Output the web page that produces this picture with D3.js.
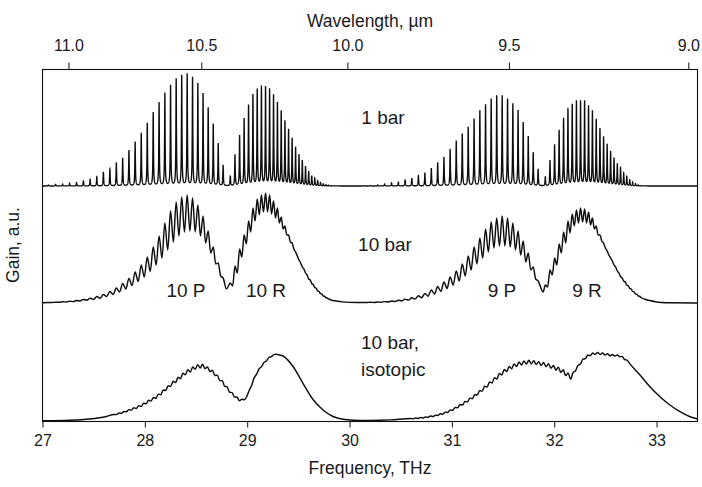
<!DOCTYPE html>
<html><head><meta charset="utf-8">
<script src="https://cdn.jsdelivr.net/npm/d3@7"></script>
<style>
body{margin:0;background:#fff}
svg{display:block}
text{font-family:"Liberation Sans",Arial,sans-serif;fill:#1a1a1a}
</style>
</head><body>
<svg id="c" width="702" height="487"></svg>
<script>
// ---------- DATA ----------
// CO2 laser line centres (THz)
const lines10P = [28.7648,28.7170,28.6684,28.6190,28.5689,28.5179,28.4662,28.4136,28.3603,28.3062,28.2513,28.1956,28.1391,28.0818,28.0237,27.9648,27.9052,27.8447,27.7835,27.7214,27.6586,27.5950,27.5306,27.4654,27.3994,27.3326,27.2650,27.1967,27.1275,27.0576];
const lines10R = [28.8350,28.8808,28.9258,28.9701,29.0135,29.0562,29.0980,29.1391,29.1794,29.2189,29.2575,29.2955,29.3326,29.3689,29.4044,29.4392,29.4731,29.5063,29.5386,29.5702,29.6010,29.6310,29.6602,29.6886,29.7162,29.7430,29.7691,29.7943,29.8187];
const lines9P = [31.8427,31.7949,31.7463,31.6969,31.6468,31.5958,31.5441,31.4915,31.4382,31.3841,31.3292,31.2735,31.2170,31.1597,31.1016,31.0427,30.9831,30.9226,30.8614,30.7993,30.7365,30.6729,30.6085,30.5433,30.4773,30.4105,30.3429,30.2746,30.2054,30.1355];
const lines9R = [31.9129,31.9587,32.0037,32.0480,32.0914,32.1341,32.1759,32.2170,32.2573,32.2968,32.3354,32.3734,32.4105,32.4468,32.4823,32.5171,32.5510,32.5842,32.6165,32.6481,32.6789,32.7089,32.7381,32.7665,32.7941,32.8209,32.8470];

// 1 bar: peak gain of each line (a.u.)
const gain1bar10P = [20.7,42.3,61.7,78,92,102,108.3,111.7,110.3,106.7,100.3,92.7,83.3,73.3,62.7,52.7,44,35.7,28,23.3,17,14,9.3,6.7,5,3.3,2.7,2,1.5,1];
const gain1bar10R = [10,31,50.3,67,80.3,90.7,96,99,98.3,96,90,82.7,74.3,64.3,56,47,38.3,31,25.3,19.3,14.3,10,7.7,5.3,3.3,2,1.3,0.7,0.3];
const gain1bar9P = [16.7,33.3,49.3,63.3,75.3,82,86.7,90,90,86.7,81,75,67,58.7,52,45,36.7,28.7,23.3,17.7,13.3,10.3,7.7,6,3.7,3,2,1,0.5,0.3];
const gain1bar9R = [8.7,25.3,41,55.3,67.3,76.7,81,84.3,84.3,84.3,79.3,74.3,66,56.7,48.7,41.3,34.3,27.7,22,17.7,12.7,9.3,6,3.7,2.3,1,0.3];

// 10 bar: gain at each line centre and in the valley between neighbouring lines
const peak10bar10P = [25,40,56,72,87,98,105,108,106,101,92,80,67,56,46,38,31,24.5,19.5,15,11.5,8.5,6.5,4.8,3.6,2.6,1.8,1.2,0.8,0.5];
const valley10bar10P = [27,39,50,60,67,71,72,71,67,61,53,45,38,31.5,26,21.5,17.5,14,11,8.5,6.5,4.8,3.6,2.8,2.0,1.4,1.0,0.7,0.5];
const peak10bar10R = [20,37,54,68,82,95,104,108,110,108,102,95,86,77,68,60,51,43,36,30,24,19.5,15.5,12,9.3,7,5.3,4,3];
const valley10bar10R = [17,30,46,59,71,82,88,91,91,89,85,80,74,68,61,54,47,40,34,28,23,18.5,14.8,11.5,9,6.8,5.1,3.8];
const peak10bar9P = [22,36,50,62,72,80,85,87,85,81,74,65,56,47,39,32,26,21,16.5,13,9.5,7.2,5.3,3.9,2.8,2.0,1.4,1.0,0.7,0.5];
const valley10bar9P = [24,33,41,48,53,56,57,57,55,51,45,39,33,27,22,18,14.5,11.5,9,6.8,5.2,3.9,2.9,2.1,1.5,1.1,0.8,0.6,0.5];
const peak10bar9R = [18,33,45,59,71,82,89,93,95,94,91,85,77,68,60,52,45,38,32,26.5,22,18,14.5,11.5,9,7,5.5];
const valley10bar9R = [16,28,38,50,60,70,77,80,81,80,78,74,68,62,55,48,42,36,30,25,21,17.3,14,11.2,8.8,6.8];
// band-centre dips and wings of the 10 bar trace [THz, gain]
const wing10bar = [[27.0,0.3],[28.797,14],[29.87,2.0],[29.93,1.1],[30.0,0.6],[30.08,0.45],[31.892,11],[32.886,3.8],[32.935,2.5],[32.99,1.2],[33.05,0.5],[33.13,0.2],[33.4,0]];

// 10 bar, isotopic mixture: frequency (THz) and gain (a.u.)
const isoFreq = [27.0,27.264,27.46,27.623,
 27.700,27.724,27.748,27.772,27.796,27.820,27.844,27.868,27.892,27.916,27.940,27.964,27.988,28.012,28.036,28.060,28.084,28.108,28.132,28.156,28.180,28.204,28.228,28.252,28.276,28.300,28.324,28.348,28.372,28.396,28.420,28.444,28.468,28.492,28.516,28.540,28.564,28.588,28.612,28.636,28.660,28.684,28.708,28.732,28.756,28.780,28.804,28.828,28.852,28.876,28.900,28.924,28.948,28.972,28.996,
 29.020,29.044,29.068,29.092,29.116,29.140,29.164,29.188,29.212,29.236,29.260,29.285,29.310,29.350,29.448,29.545,29.643,29.741,29.839,29.936,30.034,30.197,30.400,
 30.600,30.624,30.648,30.672,30.696,30.720,30.744,30.768,30.792,30.816,30.840,30.864,30.888,30.912,30.936,30.960,30.984,31.008,31.032,31.056,31.080,31.104,31.128,31.152,31.176,31.200,31.224,31.248,31.272,31.296,31.320,31.344,31.368,31.392,31.416,31.440,31.464,31.488,31.512,31.536,31.560,31.584,31.608,31.632,31.656,31.680,31.704,31.728,31.752,31.776,31.800,31.824,31.848,31.872,31.896,31.920,31.944,31.968,31.992,32.016,32.040,32.064,32.088,32.112,32.136,32.160,
 32.184,32.208,32.232,32.256,32.280,32.304,32.328,32.352,32.376,32.400,32.424,32.448,32.472,32.496,32.520,32.544,32.568,32.592,32.616,32.640,32.664,32.688,32.712,32.736,
 32.838,32.935,33.033,33.131,33.229,33.327,33.4];
const isoGain = [0.3,0.8,2.0,4.5,
 6.6,6.5,8.0,7.7,9.5,9.2,11.4,10.9,13.3,12.6,15.2,14.4,17.8,17.2,20.7,19.9,23.6,22.6,26.9,26.3,31.1,30.4,35.4,34.5,39.7,38.4,43.7,42.3,47.7,46.3,51.2,49.0,54.0,51.8,56.4,53.0,56.7,52.3,54.1,49.4,50.8,45.5,45.9,40.4,40.3,34.7,34.2,28.8,28.4,23.9,24.0,20.3,21.8,21.2,24.5,
 30.8,35.7,43.3,46.8,52.2,54.4,58.6,60.1,63.5,64.3,66.4,66.7,66.2,65,54.5,37.7,21.5,11,4.5,1.7,0.8,0.6,1.1,
 2.6,2.2,3.0,2.6,3.6,3.0,4.1,3.7,5.0,4.4,5.9,5.5,7.3,6.8,8.9,8.6,11.1,10.7,13.6,13.2,16.5,16.0,19.6,19.1,22.9,22.3,26.6,26.0,30.5,29.8,34.7,33.9,39.0,38.0,43.3,42.1,47.5,46.1,51.5,49.5,54.5,52.2,57.1,54.5,59.0,56.0,60.1,56.9,60.8,57.1,60.4,56.4,59.6,55.5,58.5,54.3,57.2,52.8,55.6,50.8,53.8,48.6,51.2,45.4,48.0,41.8,
 48.5,50.2,55.6,57.0,61.8,62.3,66.0,65.2,68.0,66.6,68.6,66.6,68.0,65.9,67.2,65.2,66.6,64.8,66.1,64.3,64.5,61.5,60.8,57.6,
 46,34.3,24.3,16,9.3,4.3,2];

// axes
const freqTicks = [27,28,29,30,31,32,33];
const wavelengthTicks = [11.0,10.5,10.0,9.5,9.0];

// ---------- CHART ----------
const svg = d3.select("#c");
const L = 42.5, R = 697.5, T = 69.5, B = 421.5;
const x = d3.scaleLinear().domain([27, 33.4]).range([L, R]);
const yTop = d3.scaleLinear().domain([0, 117]).range([186, 69]);
const yMid = d3.scaleLinear().domain([0, 117]).range([303, 186]);
const yBot = d3.scaleLinear().domain([0, 118]).range([421, 303]);

svg.append("clipPath").attr("id","clip").append("rect")
  .attr("x", L).attr("y", T - 2).attr("width", R - L).attr("height", B - T + 2);
const plot = svg.append("g").attr("clip-path","url(#clip)");

// 1 bar trace: each line drawn with a narrow line shape
const lines1 = [];
[[lines10P,gain1bar10P],[lines10R,gain1bar10R],[lines9P,gain1bar9P],[lines9R,gain1bar9R]]
  .forEach(([f,g]) => f.forEach((c,i) => lines1.push([c, g[i]])));
const hw = 0.003;
const fs = d3.range(27, 33.4001, 0.0005).concat(lines1.map(d => d[0])).sort((a,b)=>a-b);
const trace1 = fs.map(f => {
  let g = 0;
  for (const [c,h] of lines1) { const u = (f - c) / hw; g += h / (1 + u*u); }
  return [f, g];
});
plot.append("path").datum(trace1)
  .attr("fill","none").attr("stroke","#0d0d0d").attr("stroke-width",1.35)
  .attr("d", d3.line().x(d => x(d[0])).y(d => yTop(d[1])));

// 10 bar trace
function branchPoints(f, pk, vl) {
  const pts = f.map((c,i) => [c, pk[i]]);
  vl.forEach((v,i) => pts.push([(f[i] + f[i+1]) / 2, v]));
  return pts;
}
const pts10 = [].concat(
  branchPoints(lines10P, peak10bar10P, valley10bar10P),
  branchPoints(lines10R, peak10bar10R, valley10bar10R),
  branchPoints(lines9P, peak10bar9P, valley10bar9P),
  branchPoints(lines9R, peak10bar9R, valley10bar9R),
  wing10bar).sort((a,b) => a[0] - b[0]);
plot.append("path").datum(pts10)
  .attr("fill","none").attr("stroke","#0d0d0d").attr("stroke-width",1.45)
  .attr("d", d3.line().curve(d3.curveMonotoneX).x(d => x(d[0])).y(d => yMid(d[1])));

// isotopic trace
const ptsIso = isoFreq.map((f,i) => [f, isoGain[i]]);
plot.append("path").datum(ptsIso)
  .attr("fill","none").attr("stroke","#0d0d0d").attr("stroke-width",1.45)
  .attr("d", d3.line().curve(d3.curveMonotoneX).x(d => x(d[0])).y(d => yBot(d[1])));

// frame
svg.append("rect").attr("x", L).attr("y", T).attr("width", R - L).attr("height", B - T)
  .attr("fill","none").attr("stroke","#111").attr("stroke-width",1.1);

// bottom axis
const ax = svg.append("g").attr("transform", `translate(0,${B})`)
  .call(d3.axisBottom(x).tickValues(freqTicks).tickSize(6).tickSizeOuter(0).tickPadding(7).tickFormat(d3.format("d")));
ax.select(".domain").remove();
ax.selectAll("line").attr("stroke","#111");
ax.selectAll("text").attr("font-size",16).attr("font-family","Liberation Sans, Arial, sans-serif").attr("fill","#1a1a1a");

// top axis (wavelength)
const C = 299.792458;
const at = svg.append("g").attr("transform", `translate(0,${T})`)
  .call(d3.axisTop(x).tickValues(wavelengthTicks.map(l => C / l)).tickSize(7).tickSizeOuter(0).tickPadding(12)
    .tickFormat(d => (C / d).toFixed(1)));
at.select(".domain").remove();
at.selectAll("line").attr("stroke","#111");
at.selectAll("text").attr("font-size",16).attr("font-family","Liberation Sans, Arial, sans-serif").attr("fill","#1a1a1a");

// titles
svg.append("text").attr("x", 370).attr("y", 27).attr("text-anchor","middle").attr("font-size",17.5).text("Wavelength, µm");
svg.append("text").attr("x", 370).attr("y", 474).attr("text-anchor","middle").attr("font-size",17.5).text("Frequency, THz");
svg.append("text").attr("transform","translate(19,245) rotate(-90)").attr("text-anchor","middle").attr("font-size",17.5).text("Gain, a.u.");

// panel labels
const lab = (t, px, py, anchor) => svg.append("text").attr("x", px).attr("y", py)
  .attr("text-anchor", anchor || "middle").attr("font-size", 19).text(t);
lab("1 bar", 383, 124);
lab("10 bar", 385, 251);
lab("10 P", 186, 297);
lab("10 R", 266, 297);
lab("9 P", 502, 297);
lab("9 R", 587, 297);
lab("10 bar,", 361, 349, "start");
lab("isotopic", 361, 376, "start");
</script>
</body></html>
